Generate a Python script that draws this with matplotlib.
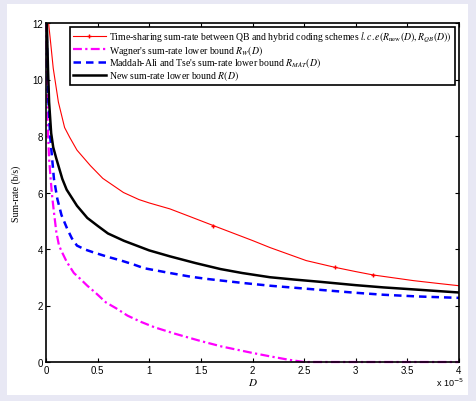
import numpy as np
import matplotlib
matplotlib.use('Agg')
import matplotlib.pyplot as plt
from matplotlib.patches import Rectangle

# distortion D in units of 1e-5, sum-rate in b/s
d_red = [0.025, 0.045, 0.07, 0.12, 0.18, 0.23, 0.3, 0.43, 0.55, 0.75, 0.9, 1.0, 1.2, 1.4,
         1.62, 2.0, 2.17, 2.52, 2.8, 3.0, 3.17, 3.56, 3.8, 4.0]
r_red = [12.0, 11.3, 10.4, 9.2, 8.3, 7.95, 7.5, 6.95, 6.5, 6.0, 5.75, 5.63, 5.42, 5.14,
         4.83, 4.3, 4.05, 3.59, 3.35, 3.2, 3.08, 2.88, 2.78, 2.70]

d_wag = [0.002, 0.015, 0.03, 0.045, 0.06, 0.077, 0.1, 0.126, 0.16, 0.2, 0.27, 0.33, 0.4, 0.48,
         0.58, 0.68, 0.79, 0.92, 1.05, 1.25, 1.49, 1.7, 2.0, 2.17, 2.35, 2.5, 3.0, 3.5, 4.0]
r_wag = [12.0, 8.5, 7.2, 6.48, 5.85, 5.3, 4.6, 4.12, 3.85, 3.55, 3.15, 2.95, 2.70, 2.45,
         2.11, 1.9, 1.64, 1.42, 1.23, 1.0, 0.75, 0.55, 0.32, 0.20, 0.08, 0.0, 0.0, 0.0, 0.0]

d_mat = [0.005, 0.02, 0.04, 0.077, 0.11, 0.15, 0.206, 0.25, 0.3, 0.38, 0.46, 0.6, 0.72, 0.85,
         0.95, 1.2, 1.4, 1.56, 1.9, 2.17, 2.6, 3.0, 3.27, 3.6, 4.0]
r_mat = [12.0, 9.5, 8.0, 6.48, 5.77, 5.2, 4.71, 4.38, 4.12, 3.98, 3.88, 3.72, 3.6, 3.45,
         3.32, 3.15, 3.02, 2.94, 2.8, 2.70, 2.57, 2.45, 2.38, 2.32, 2.27]

d_new = [0.008, 0.02, 0.03, 0.05, 0.07, 0.1, 0.158, 0.2, 0.3, 0.4, 0.5, 0.6, 0.755, 1.0,
         1.2, 1.45, 1.69, 1.9, 2.17, 2.4, 2.65, 3.0, 3.27, 3.6, 4.0]
r_new = [12.0, 10.3, 9.2, 8.1, 7.6, 7.2, 6.48, 6.1, 5.53, 5.1, 4.82, 4.55, 4.29, 3.95,
         3.74, 3.5, 3.29, 3.15, 3.0, 2.92, 2.84, 2.72, 2.64, 2.56, 2.46]

xticks = [0, 0.5, 1, 1.5, 2, 2.5, 3, 3.5, 4]
xticklabels = ['0', '0.5', '1', '1.5', '2', '2.5', '3', '3.5', '4']
yticks = [0, 2, 4, 6, 8, 10, 12]

labels = [
    r"Time-sharing sum-rate between QB and hybrid coding schemes $l.c.e(R_{\rm new}(D),R_{QB}(D))$",
    r"Wagner's sum-rate lower bound $R_W(D)$",
    r"Maddah-Ali and Tse's sum-rate lower bound $R_{MAT}(D)$",
    r"New sum-rate lower bound $R(D)$",
]

plt.rcParams['mathtext.fontset'] = 'stix'
plt.rcParams['font.family'] = 'Liberation Sans'

fig = plt.figure(figsize=(4.76, 4.02), dpi=100, facecolor='#e8e8f4')
fig.patches.append(Rectangle((7 / 476, 6 / 402), 461 / 476, 391 / 402,
                             transform=fig.transFigure, facecolor='white',
                             edgecolor='none', zorder=-5))
ax = fig.add_axes([46 / 476, 39 / 402, 413 / 476, 339 / 402])
ax.set_zorder(2)

ax.plot(d_red, r_red, color='red', lw=0.8, marker='+', ms=2.5,
        markevery=[14, 18, 20], label=labels[0])
ax.plot(d_wag, r_wag, color='magenta', lw=1.6, ls='-.', dashes=(4, 1.5, 1, 1.5),
        label=labels[1], clip_on=False)
ax.plot(d_mat, r_mat, color='blue', lw=1.8, ls='--', dashes=(3, 2), label=labels[2])
ax.plot(d_new, r_new, color='black', lw=1.8, label=labels[3])

ax.set_xlim(0, 4)
ax.set_ylim(0, 12)
ax.set_xticks(xticks)
ax.set_xticklabels(xticklabels)
ax.set_yticks(yticks)
ax.tick_params(direction='in', top=True, right=True, labelsize=7, length=3, pad=2)
for s in ax.spines.values():
    s.set_linewidth(1.2)

ax.set_xlabel('$D$', fontsize=8, labelpad=1)
ax.set_ylabel('Sum-rate (b/s)', fontsize=7, family='Liberation Serif', labelpad=8)
fig.text(450 / 476, 1 - 383 / 402, r'x 10$^{-5}$', fontsize=6.5, ha='center', va='center',
         math_fontfamily='dejavusans')

leg = ax.legend(loc='upper right', prop={'family': 'Liberation Serif', 'size': 7},
                labelspacing=-0.12, handlelength=3.4, handletextpad=0.4,
                borderaxespad=0.4, borderpad=0.3, fancybox=False, framealpha=1)
leg.get_frame().set_edgecolor('black')
leg.get_frame().set_linewidth(1.2)

fig.savefig('out.png', dpi=100, facecolor=fig.get_facecolor())
